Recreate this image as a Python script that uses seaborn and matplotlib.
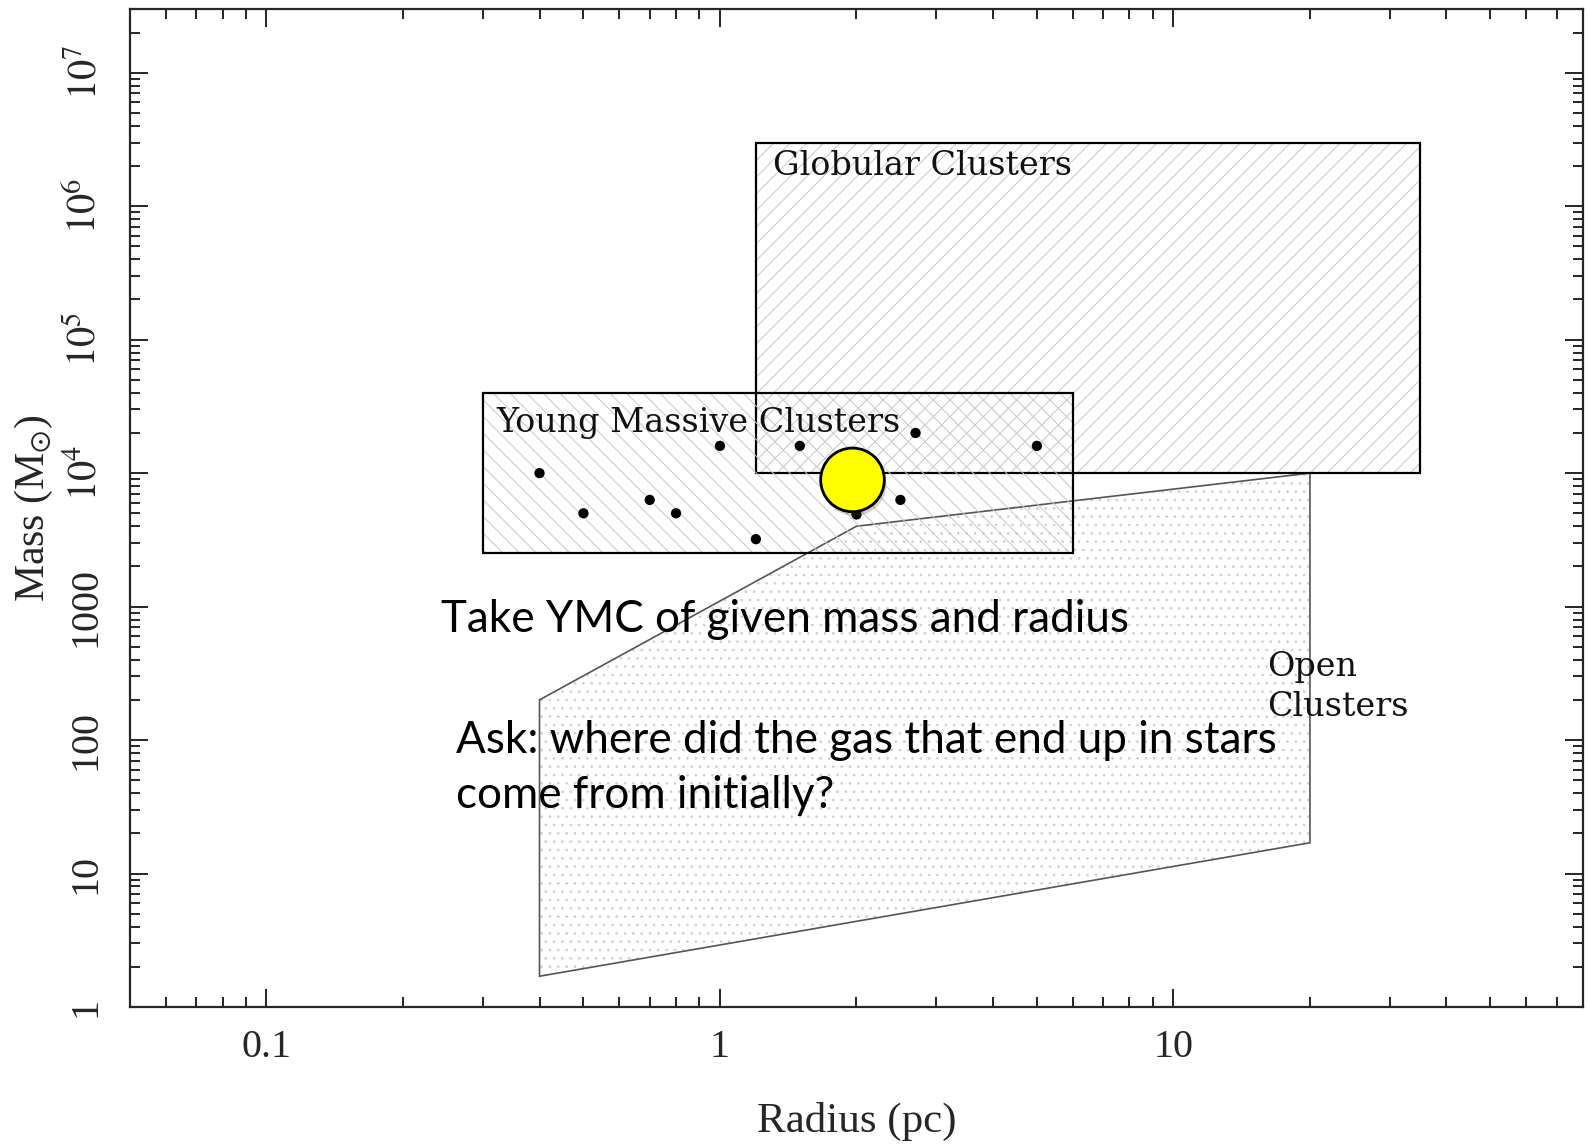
import matplotlib
matplotlib.use("Agg")
import matplotlib.pyplot as plt
import matplotlib.patheffects as pe
from matplotlib.ticker import FixedLocator, FixedFormatter, LogLocator, NullFormatter
import seaborn as sns
import pandas as pd

# regions in the radius-mass plane (pc, Msun)
gc_r = [1.2, 35, 35, 1.2]
gc_m = [1e4, 1e4, 3e6, 3e6]
ymc_r = [0.3, 6, 6, 0.3]
ymc_m = [2.5e3, 2.5e3, 4e4, 4e4]
oc_r = [0.4, 2.0, 20, 20, 0.4]
oc_m = [200, 4000, 1e4, 17, 1.7]

# individual young massive clusters
ymc_pts_r = [0.4, 0.5, 0.7, 0.8, 1.0, 1.2, 1.5, 2.0, 2.5, 2.7, 5.0]
ymc_pts_m = [1e4, 5e3, 6.3e3, 5e3, 1.6e4, 3.2e3, 1.6e4, 4.9e3, 6.3e3, 2e4, 1.6e4]

# highlighted cluster
sel_r = [1.96]
sel_m = [8.9e3]

yticks = [1, 10, 100, 1000, 1e4, 1e5, 1e6, 1e7]
ylabels = ['1', '10', '100', '1000', r'$10^4$', r'$10^5$', r'$10^6$', r'$10^7$']
xticks = [0.1, 1, 10]
xlabels = ['0.1', '1', '10']

sns.set_style('ticks')
plt.rcParams['font.family'] = ['Liberation Serif', 'DejaVu Serif']
plt.rcParams['mathtext.fontset'] = 'stix'
plt.rcParams['hatch.linewidth'] = 0.7

fig = plt.figure(figsize=(15.89, 11.46), dpi=100)
ax = fig.add_axes([0.0818, 0.1213, 0.9144, 0.8708])
ax.set_xscale('log')
ax.set_yscale('log')

hatch_col = '#c6c6c6'
ax.fill(oc_r, oc_m, facecolor='none', edgecolor='#cfcfcf', hatch='..', lw=0)
ax.fill(oc_r, oc_m, facecolor='none', edgecolor='#555555', lw=1.2)
ax.fill(gc_r, gc_m, facecolor='none', edgecolor=hatch_col, hatch='//', lw=0)
ax.fill(gc_r, gc_m, facecolor='none', edgecolor='black', lw=1.6)
ax.fill(ymc_r, ymc_m, facecolor='none', edgecolor=hatch_col, hatch='\\\\', lw=0)
ax.fill(ymc_r, ymc_m, facecolor='none', edgecolor='black', lw=1.6)

pts = pd.DataFrame({'r': ymc_pts_r, 'm': ymc_pts_m})
sns.scatterplot(data=pts, x='r', y='m', ax=ax, color='black', s=55, edgecolor='none', zorder=4)

sel = pd.DataFrame({'r': sel_r, 'm': sel_m})
sns.scatterplot(data=sel, x='r', y='m', ax=ax, color='#ffff00', s=2100,
                edgecolor='black', linewidth=2, zorder=5)
ax.collections[-1].set_path_effects([pe.SimplePatchShadow(offset=(1.5, -3), alpha=0.25), pe.Normal()])

ax.set_xlim(0.05, 80)
ax.set_ylim(1, 3e7)

ax.xaxis.set_major_locator(FixedLocator(xticks))
ax.xaxis.set_major_formatter(FixedFormatter(xlabels))
ax.xaxis.set_minor_locator(LogLocator(base=10, subs=range(2, 10), numticks=20))
ax.xaxis.set_minor_formatter(NullFormatter())
ax.yaxis.set_major_locator(FixedLocator(yticks))
ax.yaxis.set_major_formatter(FixedFormatter(ylabels))
ax.yaxis.set_minor_locator(LogLocator(base=10, subs=range(2, 10), numticks=20))
ax.yaxis.set_minor_formatter(NullFormatter())

ax.tick_params(which='both', direction='in', top=True, right=True, width=1.2, color='black')
ax.tick_params(which='major', length=13, labelsize=29)
ax.tick_params(which='minor', length=7)
ax.tick_params(axis='x', which='major', pad=16)
ax.tick_params(axis='y', which='major', pad=18)
for lab in ax.get_yticklabels():
    lab.set_rotation(90)
    lab.set_va('center')
for sp in ax.spines.values():
    sp.set_linewidth(1.6)

ax.set_xlabel('Radius (pc)', fontsize=31, labelpad=26)
ax.set_ylabel(r'Mass (M$_{\odot}$)', fontsize=30, labelpad=8)

label_font = dict(family=['DejaVu Serif'], fontsize=24, color='#111111')
ax.text(1.31, 2.0e6, 'Globular Clusters', va='center', ha='left', **label_font)
ax.text(0.322, 2.37e4, 'Young Massive Clusters', va='center', ha='left', zorder=6, **label_font)
ax.text(16.1, 250, 'Open\nClusters', va='center', ha='left', linespacing=1.3, **label_font)

note_font = dict(family=['Lato', 'DejaVu Sans'], fontsize=31.7, color='black')
ax.text(0.242, 804, 'Take YMC of given mass and radius', va='center', ha='left', zorder=6, **note_font)
ax.text(0.262, 62, 'Ask: where did the gas that end up in stars\ncome from initially?',
        va='center', ha='left', linespacing=1.42, zorder=6, **note_font)

fig.savefig('out.png', dpi=100)
